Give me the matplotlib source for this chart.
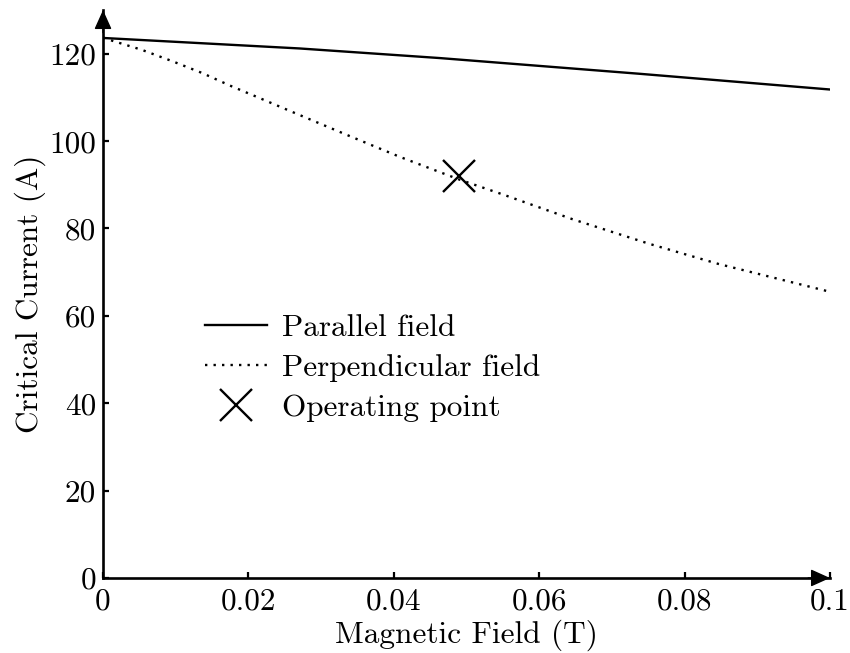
import matplotlib
matplotlib.use("Agg")
import matplotlib.pyplot as plt

# ------------------------------------------------------------
# dados
# ------------------------------------------------------------
b_par = [0, 0.027, 0.0463, 0.0738, 0.1]
ic_par = [123.6, 121.2, 119.0, 115.4, 111.8]

b_perp = [0, 0.0012, 0.0053, 0.0095, 0.0136, 0.0176, 0.0216, 0.0257,
          0.0337, 0.0408, 0.049, 0.0553, 0.0646, 0.0751, 0.0846, 0.1]
ic_perp = [123.7, 123.0, 120.9, 118.3, 115.6, 112.6, 109.8, 106.9,
           101.3, 96.4, 91.2, 87.6, 82.1, 76.5, 71.9, 65.5]

b_op = [0.049]
ic_op = [92.0]

xticks = [0, 0.02, 0.04, 0.06, 0.08, 0.1]
xtick_labels = ["0", "0.02", "0.04", "0.06", "0.08", "0.1"]
yticks = [0, 20, 40, 60, 80, 100, 120]
ytick_labels = ["0", "20", "40", "60", "80", "100", "120"]

plt.rcParams['font.family'] = 'cmr10'
plt.rcParams['mathtext.fontset'] = 'cm'
plt.rcParams['axes.formatter.use_mathtext'] = True
plt.rcParams['font.size'] = 22.5

fig = plt.figure(figsize=(8.5, 6.53), dpi=100)
ax = fig.add_axes([0.1212, 0.1149, 0.8553, 0.8698])

ax.plot(b_par, ic_par, color='k', lw=1.7, label='Parallel field')
ax.plot(b_perp, ic_perp, color='k', lw=1.7, linestyle=(0, (1, 2.6)),
        label='Perpendicular field')
ax.plot(b_op, ic_op, linestyle='none', marker='x', markersize=23,
        markeredgewidth=1.7, color='k', label='Operating point')

ax.set_xlim(0, 0.1)
ax.set_ylim(0, 130)
ax.set_xticks(xticks)
ax.set_xticklabels(xtick_labels)
ax.set_yticks(yticks)
ax.set_yticklabels(ytick_labels)
ax.tick_params(direction='in', length=4.5, width=1.6, pad=5)
ax.tick_params(axis='x', pad=7)

for s in ['top', 'right']:
    ax.spines[s].set_visible(False)
for s in ['left', 'bottom']:
    ax.spines[s].set_linewidth(1.9)

# setas nos eixos (só a ponta, a linha é a própria spine)
seta = dict(arrowstyle='-|>,head_length=0.6,head_width=0.27', color='k',
            lw=1.0, shrinkA=0, shrinkB=0, mutation_scale=20)
ax.annotate('', xy=(1, 0), xytext=(0.97, 0), xycoords='axes fraction',
            arrowprops=seta, annotation_clip=False)
ax.annotate('', xy=(0, 1), xytext=(0, 0.96), xycoords='axes fraction',
            arrowprops=seta, annotation_clip=False)

ax.set_xlabel('Magnetic Field (T)', labelpad=3)
ax.set_ylabel('Critical Current (A)', labelpad=2)

ax.legend(loc='upper left', bbox_to_anchor=(0.123, 0.4875), frameon=False,
          handlelength=2.0, handletextpad=0.45, labelspacing=0.4,
          borderaxespad=0)

fig.savefig('out.png', dpi=100)
